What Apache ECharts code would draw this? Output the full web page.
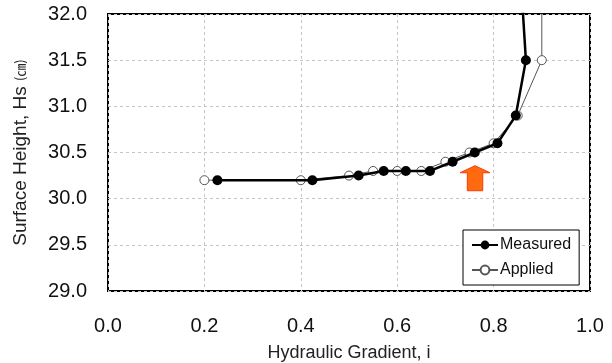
<!DOCTYPE html>
<html>
<head>
<meta charset="utf-8">
<script src="https://cdn.jsdelivr.net/npm/echarts@6/dist/echarts.min.js"></script>
<style>
  html, body { margin: 0; padding: 0; background: #fff; }
  #chart { width: 612px; height: 363px; }
</style>
</head>
<body>
<div id="chart"></div>
<script>
// Hydraulic gradient vs. surface height (last point of each run leaves the top of the plot)
const measuredX = [0.227, 0.424, 0.520, 0.572, 0.618, 0.668, 0.715, 0.761, 0.808, 0.846, 0.867, 0.855];
const measuredY = [30.2, 30.2, 30.25, 30.3, 30.3, 30.3, 30.4, 30.5, 30.6, 30.9, 31.5, 32.5];
const appliedX = [0.20, 0.40, 0.50, 0.55, 0.60, 0.65, 0.70, 0.75, 0.80, 0.85, 0.90, 0.90];
const appliedY = [30.2, 30.2, 30.25, 30.3, 30.3, 30.3, 30.4, 30.5, 30.6, 30.9, 31.5, 32.5];
const xTicks = [0.0, 0.2, 0.4, 0.6, 0.8, 1.0];
const yTicks = [29.0, 29.5, 30.0, 30.5, 31.0, 31.5, 32.0];
// onset marker (arrow) position in data units
const arrowAt = { x: 0.7615, tip: 30.357, neck: 30.281, base: 30.086, head: 0.031, shaft: 0.016 };

const FONT = 'Liberation Sans, Arial, sans-serif';
const pair = (xs, ys) => xs.map((x, i) => [x, ys[i]]);

const chart = echarts.init(document.getElementById('chart'), null, { renderer: 'canvas' });

chart.setOption({
  animation: false,
  backgroundColor: '#ffffff',
  grid: {
    left: 108, right: 22, top: 14, bottom: 72,
    outerBoundsMode: 'none', containLabel: false,
    show: true, borderColor: '#000', borderWidth: 2, backgroundColor: 'transparent'
  },
  legend: {
    left: 463, top: 230,
    orient: 'vertical',
    itemWidth: 26, itemHeight: 11, itemGap: 9,
    padding: [7, 8, 7, 8],
    backgroundColor: '#fff',
    borderColor: '#000', borderWidth: 1, borderRadius: 0,
    textStyle: { fontFamily: FONT, fontSize: 16, color: '#111', padding: [0, 0, 0, -3] },
    data: ['Measured', 'Applied']
  },
  xAxis: {
    type: 'value', min: xTicks[0], max: xTicks[xTicks.length - 1], interval: 0.2,
    name: 'Hydraulic Gradient, i', nameLocation: 'middle', nameGap: 53,
    nameTextStyle: { fontFamily: FONT, fontSize: 18, color: '#222' },
    axisLine: { show: false }, axisTick: { show: false },
    axisLabel: { fontFamily: FONT, fontSize: 20, color: '#111', margin: 25,
      formatter: v => v.toFixed(1) },
    splitLine: { show: true, lineStyle: { color: '#c4c4c4', type: [3, 3], width: 1 } }
  },
  yAxis: {
    type: 'value', min: yTicks[0], max: yTicks[yTicks.length - 1], interval: 0.5,
    name: 'Surface Height, Hs {u|(㎝)}', nameLocation: 'middle', nameGap: 78, nameRotate: 90,
    nameTextStyle: { fontFamily: FONT, fontSize: 19, color: '#222',
      rich: { u: { fontFamily: 'Noto Sans CJK JP, ' + FONT, fontSize: 13, color: '#222' } } },
    axisLine: { show: false }, axisTick: { show: false },
    axisLabel: { fontFamily: FONT, fontSize: 20, color: '#111', margin: 21,
      formatter: v => v.toFixed(1) },
    splitLine: { show: true, lineStyle: { color: '#c4c4c4', type: [3, 3], width: 1 } }
  },
  series: [
    {
      name: 'Applied', type: 'line', data: pair(appliedX, appliedY), z: 2,
      clip: true,
      symbol: 'circle', symbolSize: 9, showAllSymbol: true,
      lineStyle: { color: '#555', width: 1 },
      itemStyle: { color: '#fff', borderColor: '#555', borderWidth: 1 }
    },
    {
      name: 'Measured', type: 'line', data: pair(measuredX, measuredY), z: 3,
      clip: true,
      symbol: 'circle', symbolSize: 10, showAllSymbol: true,
      lineStyle: { color: '#000', width: 2.5 },
      itemStyle: { color: '#000', borderColor: '#000', borderWidth: 0 }
    }
  ]
});

// Orange arrow marking the onset point, placed through the axis scales
function drawArrow() {
  const a = arrowAt;
  const pts = [
    [a.x, a.tip], [a.x + a.head, a.neck], [a.x + a.shaft, a.neck], [a.x + a.shaft, a.base],
    [a.x - a.shaft, a.base], [a.x - a.shaft, a.neck], [a.x - a.head, a.neck]
  ].map(p => chart.convertToPixel({ gridIndex: 0 }, p));
  chart.setOption({
    graphic: [{
      type: 'polygon', z: 10,
      shape: { points: pts },
      style: { fill: '#ff6a10', stroke: '#ff3a00', lineWidth: 1 }
    }]
  });
}
drawArrow();
</script>
</body>
</html>
